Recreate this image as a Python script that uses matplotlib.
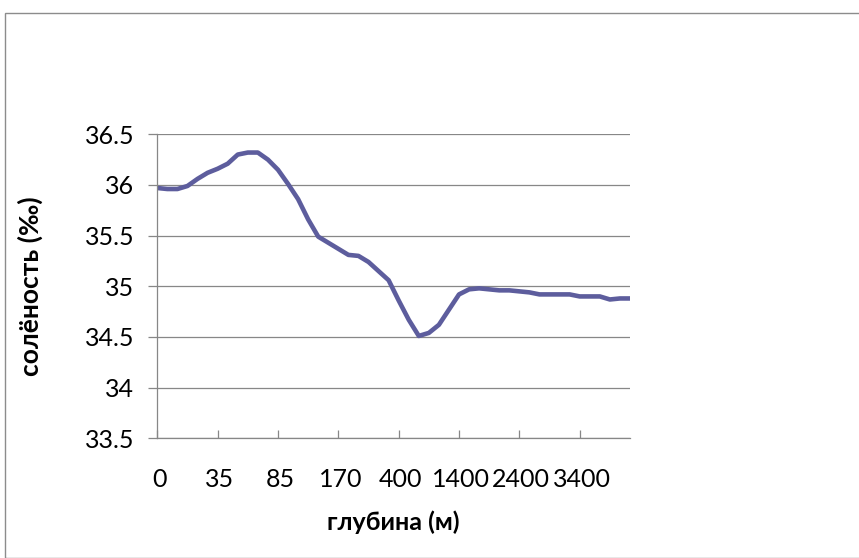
import matplotlib
matplotlib.use("Agg")
import matplotlib.pyplot as plt
from matplotlib.patches import Rectangle
from matplotlib.transforms import ScaledTranslation

plt.rcParams['font.family'] = ['Lato', 'Open Sans', 'DejaVu Sans']

depths = ["0", "5", "10", "15", "20", "30",
          "35", "40", "50", "60", "70", "75",
          "85", "100", "110", "120", "130", "150",
          "170", "200", "220", "250", "300", "350",
          "400", "600", "800", "900", "1000", "1200",
          "1400", "1600", "1800", "2000", "2100", "2200",
          "2400", "2600", "2800", "3000", "3100", "3200",
          "3400", "3600", "3800", "4000", "4200", "4400"]

salinity = [35.97, 35.96, 35.96, 35.99, 36.06, 36.12,
            36.16, 36.21, 36.30, 36.32, 36.32, 36.25,
            36.15, 36.01, 35.86, 35.66, 35.49, 35.43,
            35.37, 35.31, 35.30, 35.24, 35.15, 35.06,
            34.86, 34.67, 34.51, 34.54, 34.62, 34.77,
            34.92, 34.97, 34.98, 34.97, 34.96, 34.96,
            34.95, 34.94, 34.92, 34.92, 34.92, 34.92,
            34.90, 34.90, 34.90, 34.87, 34.88, 34.88]

label_every = 6
y_ticks = [33.5, 34, 34.5, 35, 35.5, 36, 36.5]
y_tick_labels = ["33.5", "34", "34.5", "35", "35.5", "36", "36.5"]

W, H = 859, 558
fig = plt.figure(figsize=(W / 100, H / 100), dpi=100)
fig.patch.set_facecolor('white')

# outer chart border
fig.patches.append(Rectangle((5 / W, 0), 2, (H - 12.5) / H, transform=fig.transFigure,
                             fill=False, edgecolor='#8c8c8c', linewidth=1.0))

ax = fig.add_axes([157.3 / W, 1 - 438.3 / H, (630 - 157.3) / W, (438.3 - 134.3) / H])

x = list(range(len(depths)))
ax.plot(x, salinity, color='#5d5d9d', linewidth=3.3, solid_joinstyle='round')

ax.set_xlim(0, len(depths) - 1)
ax.set_ylim(33.5, 36.5)

ax.set_yticks(y_ticks)
ax.set_yticklabels(y_tick_labels)
xt = list(range(0, len(depths), label_every))
ax.set_xticks(xt)
ax.set_xticklabels([depths[i] for i in xt])

grid_c = '#878787'
ax.yaxis.grid(True, color=grid_c, linewidth=0.9)
ax.set_axisbelow(True)
for s in ['top', 'right']:
    ax.spines[s].set_visible(False)
ax.spines['left'].set_color(grid_c)
ax.spines['bottom'].set_color(grid_c)
ax.spines['left'].set_linewidth(0.9)
ax.spines['bottom'].set_linewidth(0.9)

ax.tick_params(axis='y', direction='out', length=6.5, width=0.9, color=grid_c,
               labelsize=18, pad=10, labelcolor='black')
ax.tick_params(axis='x', direction='in', length=6, width=0.9, color=grid_c,
               labelsize=18, pad=21.5, labelcolor='black')

shift = ScaledTranslation(2 / 100, 0, fig.dpi_scale_trans)
for lab in ax.get_xticklabels():
    lab.set_transform(lab.get_transform() + shift)

ax.set_xlabel("глубина (м)", fontsize=18, fontweight='bold', va='center')
ax.xaxis.set_label_coords(0.5, (438.3 - 522) / 304)
ax.set_ylabel("солёность (‰)", fontsize=19, fontweight='bold', va='center')
ax.yaxis.set_label_coords((30 - 157.3) / 472.7, 0.5)

fig.savefig("out.png", dpi=100, facecolor='white')
